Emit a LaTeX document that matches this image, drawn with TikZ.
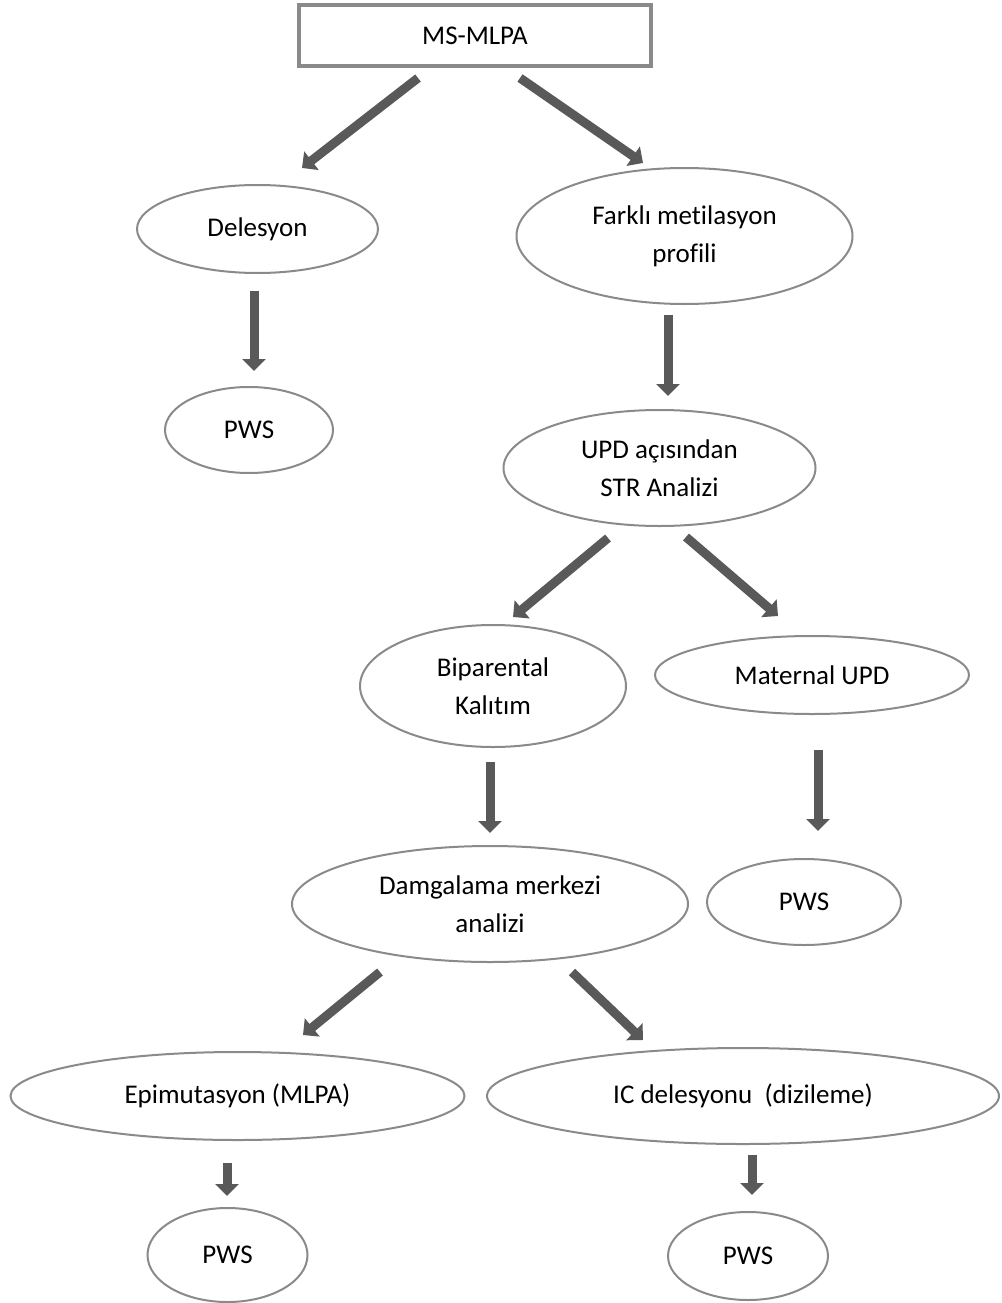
\documentclass[tikz,border=0pt]{standalone}
\usepackage{fontspec}
\setmainfont[Ligatures={NoCommon}]{Carlito}
\usetikzlibrary{arrows.meta,shapes.geometric}
\definecolor{arrgray}{HTML}{595959}
\definecolor{edgegray}{HTML}{8A8A8A}
\tikzset{
  oval/.style={ellipse, draw=edgegray, line width=2pt, inner sep=0pt, align=center,
    font=\fontsize{27}{38}\selectfont},
  boxnode/.style={rectangle, draw=edgegray, line width=3.2pt, inner sep=0pt, align=center,
    font=\fontsize{27}{38}\selectfont},
  arr/.style={draw=arrgray, line width=9pt, -{Triangle[width=23pt,length=12pt]}},
}
\begin{document}
\begin{tikzpicture}[x=1pt,y=-1pt]
\useasboundingbox (0,0) rectangle (1001,1303);
\node[boxnode, minimum width=352pt, minimum height=61pt] (box) at (475,35.5) {MS-MLPA};
\node[oval, minimum width=241pt, minimum height=88pt] (del) at (257.5,229) {Delesyon};
\node[oval, minimum width=336pt, minimum height=136pt] (far) at (684.5,236) {Farklı metilasyon\\profili};
\node[oval, minimum width=168pt, minimum height=86pt] (pwsa) at (249,430) {PWS};
\node[oval, minimum width=312pt, minimum height=116pt] (upd) at (659.5,468) {UPD açısından\\STR Analizi};
\node[oval, minimum width=266pt, minimum height=122pt] (bip) at (493,686) {Biparental\\Kalıtım};
\node[oval, minimum width=314pt, minimum height=78pt] (mat) at (812,675) {Maternal UPD};
\node[oval, minimum width=396pt, minimum height=116pt] (dam) at (490,904) {Damgalama merkezi\\analizi};
\node[oval, minimum width=194pt, minimum height=86pt] (pwsb) at (804,902) {PWS};
\node[oval, minimum width=454pt, minimum height=88pt] (epi) at (237.5,1096) {Epimutasyon (MLPA)};
\node[oval, minimum width=512pt, minimum height=96pt] (ic) at (743,1096) {IC delesyonu\ \ (dizileme)};
\node[oval, minimum width=160pt, minimum height=94pt] (pwsc) at (227.5,1255) {PWS};
\node[oval, minimum width=160pt, minimum height=88pt] (pwsd) at (748,1256) {PWS};

\draw[arr] ([shift={(-57,42.5)}]box.center) -- ([shift={(44.5,-61)}]del.center);
\draw[arr] ([shift={(45,42.5)}]box.center) -- ([shift={(-41.5,-73)}]far.center);
\draw[arr] ([shift={(-3.5,62)}]del.center) -- ([shift={(5,-59)}]pwsa.center);
\draw[arr] ([shift={(-16.5,79)}]far.center) -- ([shift={(8.5,-72)}]upd.center);
\draw[arr] ([shift={(-51.5,70)}]upd.center) -- ([shift={(20,-69)}]bip.center);
\draw[arr] ([shift={(26.5,69)}]upd.center) -- ([shift={(-34,-59)}]mat.center);
\draw[arr] ([shift={(-3,76)}]bip.center) -- ([shift={(0,-71)}]dam.center);
\draw[arr] ([shift={(6,75)}]mat.center) -- ([shift={(14,-71)}]pwsb.center);
\draw[arr] ([shift={(-110,68)}]dam.center) -- ([shift={(65.5,-61)}]epi.center);
\draw[arr] ([shift={(82,68)}]dam.center) -- ([shift={(-100,-56)}]ic.center);
\draw[arr] ([shift={(-10.5,67)}]epi.center) -- ([shift={(-0.5,-59)}]pwsc.center);
\draw[arr] ([shift={(9,59)}]ic.center) -- ([shift={(4,-61)}]pwsd.center);
\end{tikzpicture}
\end{document}
